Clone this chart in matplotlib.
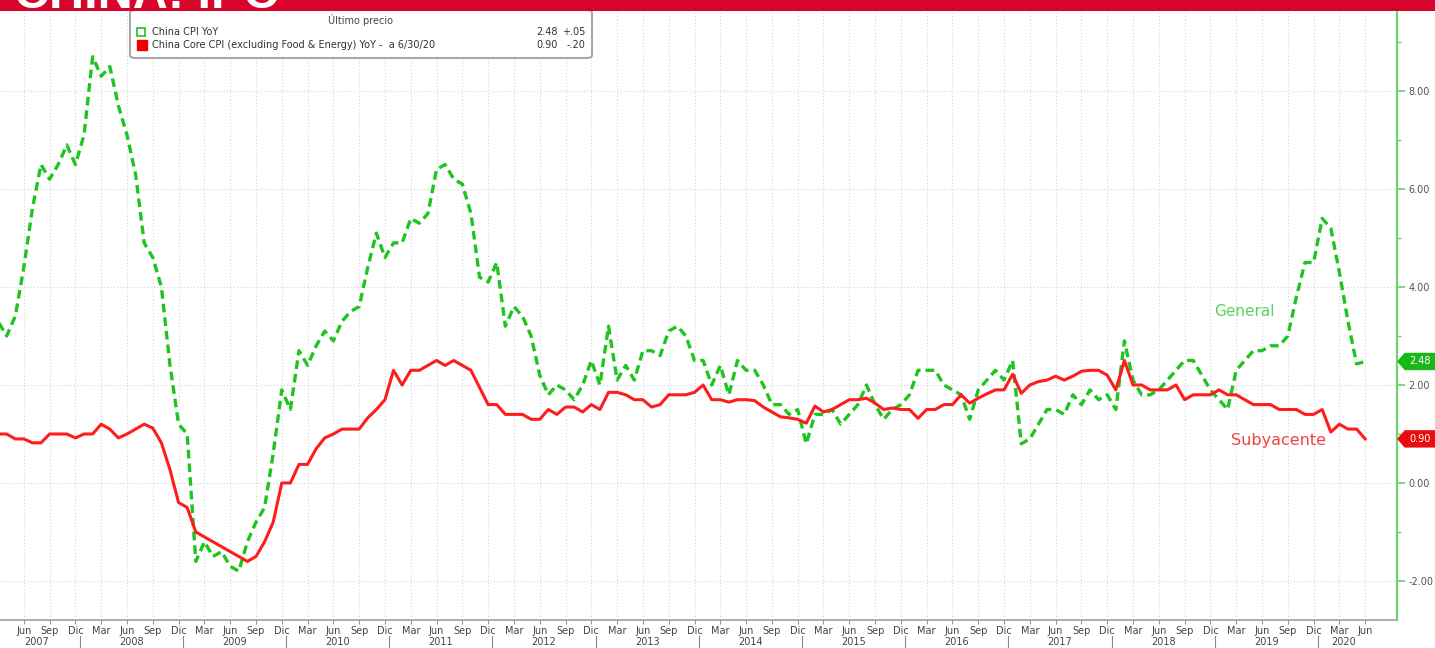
import numpy as np
import matplotlib
matplotlib.use("Agg")
import matplotlib.pyplot as plt
from matplotlib import transforms as mtransforms
from matplotlib.patches import Polygon, FancyBboxPatch, Rectangle

# ---------------- data ----------------
start_year = 2007
start_month = 3   # first observation: Mar 2007

cpi_yoy = [
    3.3, 3.0, 3.4, 4.4, 5.6, 6.5, 6.2, 6.5, 6.9, 6.5,                 # 2007 Mar-Dec
    7.1, 8.7, 8.3, 8.5, 7.7, 7.1, 6.3, 4.9, 4.6, 4.0, 2.4, 1.2,       # 2008
    1.0, -1.6, -1.2, -1.5, -1.4, -1.7, -1.8, -1.2, -0.8, -0.5, 0.6, 1.9,  # 2009
    1.5, 2.7, 2.4, 2.8, 3.1, 2.9, 3.3, 3.5, 3.6, 4.4, 5.1, 4.6,       # 2010
    4.9, 4.9, 5.4, 5.3, 5.5, 6.4, 6.5, 6.2, 6.1, 5.5, 4.2, 4.1,       # 2011
    4.5, 3.2, 3.6, 3.4, 3.0, 2.2, 1.8, 2.0, 1.9, 1.7, 2.0, 2.5,       # 2012
    2.0, 3.2, 2.1, 2.4, 2.1, 2.7, 2.7, 2.6, 3.1, 3.2, 3.0, 2.5,       # 2013
    2.5, 2.0, 2.4, 1.8, 2.5, 2.3, 2.3, 2.0, 1.6, 1.6, 1.4, 1.5,       # 2014
    0.8, 1.4, 1.4, 1.5, 1.2, 1.4, 1.6, 2.0, 1.6, 1.3, 1.5, 1.6,       # 2015
    1.8, 2.3, 2.3, 2.3, 2.0, 1.9, 1.8, 1.3, 1.9, 2.1, 2.3, 2.1,       # 2016
    2.5, 0.8, 0.9, 1.2, 1.5, 1.5, 1.4, 1.8, 1.6, 1.9, 1.7, 1.8,       # 2017
    1.5, 2.9, 2.1, 1.8, 1.8, 1.9, 2.1, 2.3, 2.5, 2.5, 2.2, 1.9,       # 2018
    1.7, 1.5, 2.3, 2.5, 2.7, 2.7, 2.8, 2.8, 3.0, 3.8, 4.5, 4.5,       # 2019
    5.4, 5.2, 4.3, 3.3, 2.43, 2.48,                                   # 2020 Jan-Jun
]

core_cpi_yoy = [
    1.0, 1.0, 0.9, 0.9, 0.82, 0.82, 1.0, 1.0, 1.0, 0.92,              # 2007 Mar-Dec
    1.0, 1.0, 1.2, 1.1, 0.92, 1.0, 1.1, 1.2, 1.12, 0.82, 0.27, -0.4,  # 2008
    -0.5, -1.0, -1.1, -1.2, -1.3, -1.4, -1.5, -1.6, -1.5, -1.2, -0.8, 0.0,  # 2009
    0.0, 0.38, 0.38, 0.7, 0.92, 1.0, 1.1, 1.1, 1.1, 1.33, 1.5, 1.7,   # 2010
    2.3, 2.0, 2.3, 2.3, 2.4, 2.5, 2.4, 2.5, 2.4, 2.3, 1.95, 1.6,      # 2011
    1.6, 1.4, 1.4, 1.4, 1.3, 1.3, 1.5, 1.4, 1.55, 1.55, 1.45, 1.6,    # 2012
    1.5, 1.85, 1.85, 1.8, 1.7, 1.7, 1.55, 1.6, 1.8, 1.8, 1.8, 1.85,   # 2013
    2.0, 1.7, 1.7, 1.65, 1.7, 1.7, 1.68, 1.55, 1.45, 1.35, 1.33, 1.3, # 2014
    1.22, 1.57, 1.45, 1.5, 1.6, 1.7, 1.7, 1.73, 1.63, 1.5, 1.53, 1.5, # 2015
    1.5, 1.32, 1.5, 1.5, 1.6, 1.6, 1.8, 1.63, 1.73, 1.82, 1.9, 1.9,   # 2016
    2.22, 1.83, 2.0, 2.07, 2.1, 2.18, 2.1, 2.18, 2.28, 2.3, 2.3, 2.2, # 2017
    1.9, 2.5, 2.0, 2.0, 1.9, 1.9, 1.9, 2.0, 1.7, 1.8, 1.8, 1.8,       # 2018
    1.9, 1.8, 1.8, 1.7, 1.6, 1.6, 1.6, 1.5, 1.5, 1.5, 1.4, 1.4,       # 2019
    1.5, 1.04, 1.2, 1.1, 1.1, 0.9,                                    # 2020 Jan-Jun
]

month_abbr = {3: "Mar", 6: "Jun", 9: "Sep", 12: "Dic"}
y_major = [-2, 0, 2, 4, 6, 8]
y_minor = [-1, 1, 3, 5, 7, 9]
legend_title = "Último precio"
legend_names = ["China CPI YoY",
                "China Core CPI (excluding Food & Energy) YoY -  a 6/30/20"]
legend_last = ["2.48", "0.90"]
legend_change = ["+.05", "-.20"]
cpi_last = 2.48
core_last = 0.90
banner_title = "CHINA: IPC"

# ---------------- style ----------------
GREEN = "#1fc41f"
GREEN_AX = "#6fd66f"
RED = "#ff1c1c"
BANNER = "#d8042c"

W, H = 1435, 648
fig = plt.figure(figsize=(W / 100, H / 100), dpi=100)
fig.patch.set_facecolor("white")


def fx(px):
    return px / W


def fy(py):
    return 1 - py / H


ax = fig.add_axes([0, fy(620), fx(1397), (620 - 10) / H])
n = len(cpi_yoy)
x = np.arange(n)
months = [(start_month - 1 + i) % 12 + 1 for i in range(n)]
years = [start_year + (start_month - 1 + i) // 12 for i in range(n)]

ax.plot(x, cpi_yoy, color=GREEN, lw=2.4, linestyle=(0, (2.6, 1.5)), zorder=3)
ax.plot(x, core_cpi_yoy, color=RED, lw=2.2, zorder=4)

xmin, xmax = 0.23, 162.7
ax.set_xlim(xmin, xmax)
ax.set_ylim(-2.796, 9.653)

# spines
for s in ("top", "left"):
    ax.spines[s].set_visible(False)
ax.spines["right"].set_color(GREEN_AX)
ax.spines["right"].set_linewidth(1.6)
ax.spines["bottom"].set_color("#a0a0a0")
ax.spines["bottom"].set_linewidth(1.2)

# y axis on right
ax.yaxis.tick_right()
ax.set_yticks(y_major)
ax.set_yticklabels([f"{v:.2f}" for v in y_major])
ax.set_yticks(y_minor, minor=True)
ax.tick_params(axis="y", which="major", direction="out", length=6, width=1.3,
               color=GREEN_AX, labelsize=7, labelcolor="#555555", pad=2)
ax.tick_params(axis="y", which="minor", direction="out", length=3, width=1.0,
               color=GREEN_AX)

# x quarterly ticks
q = [i for i in range(n) if months[i] in month_abbr and xmin <= i <= xmax]
ax.set_xticks(q)
ax.set_xticklabels([])
ax.tick_params(axis="x", which="major", direction="out", length=3, width=0.8,
               color="#999999")

ax.set_axisbelow(True)
ax.grid(True, which="major", axis="both", linestyle=(0, (1, 2)),
        color="#d5d5d5", lw=0.8)

trans_xa = mtransforms.blended_transform_factory(ax.transData, ax.transAxes)
axh = 610.0
for i in q:
    ax.text(i, -11 / axh, month_abbr[months[i]], transform=trans_xa,
            ha="center", va="center", fontsize=7, color="#444444")

for yr in sorted(set(years)):
    idx = [i for i in range(n) if years[i] == yr]
    ax.text(np.mean(idx), -22 / axh, str(yr), transform=trans_xa,
            ha="center", va="center", fontsize=7, color="#444444")
    if months[idx[-1]] == 12:
        sep = idx[-1] + 0.5
        ax.plot([sep, sep], [-16 / axh, -30 / axh], transform=trans_xa,
                color="#888888", lw=0.8, clip_on=False)

# annotations
ax.text(144.9, 3.49, "General", color="#5cd05c", fontsize=11,
        ha="center", va="center", zorder=5)
ax.text(148.9, 0.86, "Subyacente", color="#f04444", fontsize=11.5,
        ha="center", va="center", zorder=5)

# last value badges (pixel coordinates derived from data transform)
ident = mtransforms.IdentityTransform()


def badge(val, color, label):
    xd = ax.transAxes.transform((1.0, 0.0))[0]
    yd = ax.transData.transform((0.0, val))[1]
    h = 8
    poly = Polygon([(xd + 1, yd), (xd + 8, yd + h), (xd + 38, yd + h),
                    (xd + 38, yd - h), (xd + 8, yd - h)], closed=True,
                   facecolor=color, edgecolor=color, transform=ident, zorder=10)
    fig.add_artist(poly)
    fig.text(xd + 23, yd, label, transform=ident, ha="center", va="center",
             color="white", fontsize=7, zorder=11)


badge(cpi_last, "#19b819", f"{cpi_last:.2f}")
badge(core_last, "#e80c0c", f"{core_last:.2f}")

# legend box
lx0, lx1, ly0, ly1 = 130, 592, 10, 58
box = FancyBboxPatch((fx(lx0), fy(ly1)), fx(lx1 - lx0), (ly1 - ly0) / H,
                     boxstyle="round,pad=0,rounding_size=0.004",
                     transform=fig.transFigure, facecolor="white",
                     edgecolor="#a8a8a8", lw=1.5, zorder=20)
fig.add_artist(box)
fig.text(fx(361), fy(20), legend_title, ha="center", va="center",
         fontsize=7, color="#444444", zorder=21)
row_y = [32, 45]
for k, (name, last, chg) in enumerate(zip(legend_names, legend_last, legend_change)):
    yy = row_y[k]
    if k == 0:
        sq = Rectangle((fx(137), fy(yy + 4)), fx(8), 8 / H, transform=fig.transFigure,
                       facecolor="white", edgecolor=GREEN, lw=1.2, zorder=21)
    else:
        sq = Rectangle((fx(137), fy(yy + 5)), fx(10), 10 / H, transform=fig.transFigure,
                       facecolor="#ee0000", edgecolor="#ee0000", lw=1, zorder=21)
    fig.add_artist(sq)
    fig.text(fx(152), fy(yy), name, ha="left", va="center", fontsize=7,
             color="#333333", zorder=21)
    fig.text(fx(558), fy(yy), last, ha="right", va="center", fontsize=7,
             color="#333333", zorder=21)
    fig.text(fx(585), fy(yy), chg, ha="right", va="center", fontsize=7,
             color="#333333", zorder=21)

# top banner
fig.add_artist(Rectangle((0, fy(11)), 1, 11 / H, transform=fig.transFigure,
                         facecolor=BANNER, edgecolor="none", zorder=30))
fig.text(fx(14), fy(8.5), banner_title, ha="left", va="baseline",
         fontsize=35, fontweight="bold", family="Liberation Sans",
         color="white", zorder=31)

fig.savefig("out.png", dpi=100)
